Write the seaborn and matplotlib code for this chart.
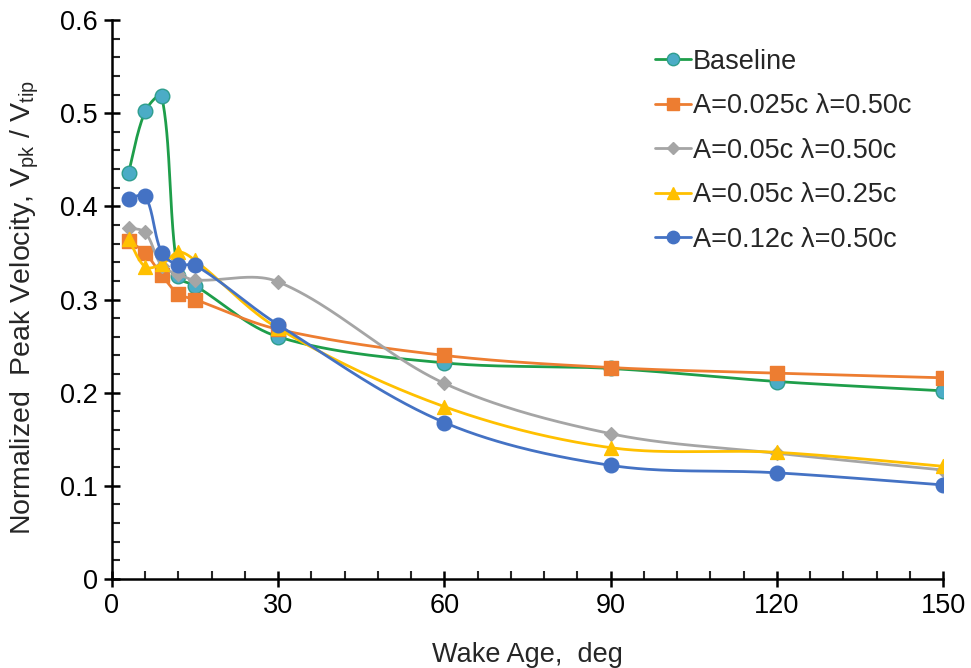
import numpy as np
import pandas as pd
import matplotlib
matplotlib.use("Agg")
import matplotlib.pyplot as plt
from matplotlib.lines import Line2D
from matplotlib.ticker import MultipleLocator
import seaborn as sns

# ---- data ----
wake_age = [3, 6, 9, 12, 15, 30, 60, 90, 120, 150]
baseline = [0.436, 0.502, 0.518, 0.325, 0.315, 0.260, 0.232, 0.226, 0.212, 0.202]
a025_l50 = [0.363, 0.350, 0.326, 0.306, 0.300, 0.268, 0.240, 0.227, 0.221, 0.216]
a05_l50 = [0.377, 0.372, 0.336, 0.327, 0.321, 0.319, 0.210, 0.156, 0.135, 0.117]
a05_l25 = [0.365, 0.335, 0.338, 0.351, 0.342, 0.269, 0.185, 0.141, 0.136, 0.121]
a12_l50 = [0.408, 0.411, 0.350, 0.337, 0.337, 0.273, 0.168, 0.122, 0.114, 0.101]

labels = ["Baseline", "A=0.025c \u03bb=0.50c", "A=0.05c \u03bb=0.50c",
          "A=0.05c \u03bb=0.25c", "A=0.12c \u03bb=0.50c"]
series = [baseline, a025_l50, a05_l50, a05_l25, a12_l50]
line_colors = ["#1E9E4A", "#ED7D31", "#A5A5A5", "#FFC000", "#4472C4"]
face_colors = ["#4BACC6", "#ED7D31", "#A5A5A5", "#FFC000", "#4472C4"]
edge_colors = ["#2E9E8E", "#ED7D31", "#A5A5A5", "#FFC000", "#4472C4"]
markers = ["o", "s", "D", "^", "o"]
msizes = [10.5, 10, 7, 10, 10.5]

x_label = "Wake Age,  deg"
y_label = "Normalized  Peak Velocity, V$_{\\mathregular{pk}}$ / V$_{\\mathregular{tip}}$"

FS = 19.5


def smooth(xs, ys, sx, sy, n=50):
    """Smoothed line through the points (Bezier with length-weighted tangents),
    computed in display-like units sx, sy (pixels per data unit)."""
    P = np.column_stack([np.asarray(xs, float) * sx, np.asarray(ys, float) * sy])
    m = len(P)
    d = np.hypot(*np.diff(P, axis=0).T)
    out = []
    for i in range(m - 1):
        p1, p2 = P[i], P[i + 1]
        if i > 0:
            t1 = (P[i + 1] - P[i - 1]) * d[i] / (d[i - 1] + d[i]) / 3.0
        else:
            t1 = (p2 - p1) / 3.0 * 0.5
        if i + 2 < m:
            t2 = (P[i + 2] - P[i]) * d[i] / (d[i] + d[i + 1]) / 3.0
        else:
            t2 = (p2 - p1) / 3.0 * 0.5
        c1 = p1 + t1
        c2 = p2 - t2
        t = np.linspace(0, 1, n)[:, None]
        seg = ((1 - t) ** 3) * p1 + 3 * ((1 - t) ** 2) * t * c1 + 3 * (1 - t) * t ** 2 * c2 + t ** 3 * p2
        out.append(seg if i == 0 else seg[1:])
    res = np.vstack(out)
    res[:, 0] /= sx
    res[:, 1] /= sy
    return res


sns.set_theme(style="ticks")
plt.rcParams["font.family"] = ["Liberation Sans", "DejaVu Sans"]
plt.rcParams["mathtext.fontset"] = "custom"
plt.rcParams["mathtext.rm"] = "Liberation Sans"

fig = plt.figure(figsize=(9.71, 6.68), dpi=100)
ax = fig.add_axes([0.1153, 0.1332, 0.9712 - 0.1153, 0.970 - 0.1332])

SX, SY = 831 / 150.0, 932.0
for k, (lab, ys) in enumerate(zip(labels, series)):
    curve = smooth(wake_age, ys, SX, SY)
    cdf = pd.DataFrame({"x": curve[:, 0], "y": curve[:, 1]})
    sns.lineplot(data=cdf, x="x", y="y", ax=ax, color=line_colors[k], lw=2.0,
                 sort=False, estimator=None, zorder=2 + k)
    pdf = pd.DataFrame({"x": wake_age, "y": ys})
    sns.scatterplot(data=pdf, x="x", y="y", ax=ax, marker=markers[k],
                    s=msizes[k] ** 2, color=face_colors[k],
                    edgecolor=edge_colors[k], linewidth=1.0, zorder=2.5 + k)

ax.set_xlim(0, 150)
ax.set_ylim(0, 0.6)
ax.xaxis.set_major_locator(MultipleLocator(30))
ax.xaxis.set_minor_locator(MultipleLocator(6))
ax.yaxis.set_minor_locator(MultipleLocator(0.02))
ax.set_yticks(np.arange(0, 0.61, 0.1))
ax.set_yticklabels(["0", "0.1", "0.2", "0.3", "0.4", "0.5", "0.6"])
ax.tick_params(axis="both", which="major", direction="inout", length=12, width=1.8,
               labelsize=FS, colors="black", pad=4)
ax.tick_params(axis="both", which="minor", direction="in", length=6, width=1.5)
for s in ["top", "right"]:
    ax.spines[s].set_visible(False)
for s in ["left", "bottom"]:
    ax.spines[s].set_linewidth(1.8)
    ax.spines[s].set_color("black")

ax.set_xlabel(x_label, fontsize=FS)
ax.set_ylabel(y_label, fontsize=20.5)
ax.xaxis.set_label_coords(0.5, -0.112)
ax.yaxis.set_label_coords(-0.085, 0.485)

handles = [Line2D([0], [0], color=line_colors[k], lw=2.0, marker=markers[k],
                  markersize=msizes[k] * 0.85, markerfacecolor=face_colors[k],
                  markeredgecolor=edge_colors[k]) for k in range(len(labels))]
leg = ax.legend(handles, labels, loc="upper left", bbox_to_anchor=(0.663, 0.943),
                bbox_transform=fig.transFigure, frameon=False, fontsize=FS,
                handlelength=1.35, handletextpad=0.05, labelspacing=0.68,
                borderaxespad=0)

fig.savefig("out.png", dpi=100)
